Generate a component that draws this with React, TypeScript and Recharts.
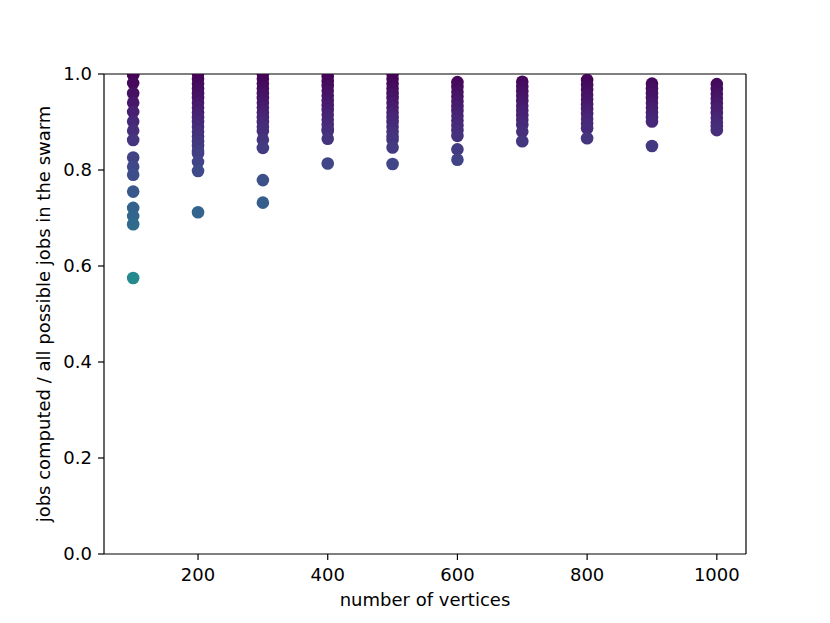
import React from 'react';
import { ScatterChart, Scatter, XAxis, YAxis, ReferenceLine } from 'recharts';

const col100 = [1.0, 0.998, 0.981, 0.96, 0.94, 0.921, 0.901, 0.882, 0.8625, 0.826, 0.807, 0.79, 0.755, 0.721, 0.704, 0.687, 0.575];
const col200 = [1.0, 0.99, 0.98, 0.97, 0.96, 0.95, 0.94, 0.93, 0.92, 0.91, 0.9, 0.89, 0.88, 0.87, 0.86, 0.85, 0.84, 0.835, 0.817, 0.798, 0.712];
const col300 = [1.0, 0.99, 0.98, 0.97, 0.96, 0.95, 0.94, 0.93, 0.92, 0.91, 0.9, 0.89, 0.881, 0.863, 0.846, 0.779, 0.732];
const col400 = [0.995, 0.985, 0.975, 0.965, 0.955, 0.945, 0.935, 0.925, 0.915, 0.905, 0.895, 0.885, 0.881, 0.865, 0.8135];
const col500 = [1.0, 0.99, 0.98, 0.97, 0.96, 0.95, 0.94, 0.93, 0.92, 0.91, 0.9, 0.89, 0.88, 0.87, 0.863, 0.847, 0.8125];
const col600 = [0.983, 0.973, 0.963, 0.953, 0.943, 0.933, 0.923, 0.913, 0.903, 0.893, 0.883, 0.871, 0.843, 0.8215];
const col700 = [0.984, 0.974, 0.964, 0.954, 0.944, 0.934, 0.924, 0.914, 0.904, 0.894, 0.88, 0.86];
const col800 = [0.9875, 0.977, 0.967, 0.957, 0.947, 0.937, 0.927, 0.917, 0.907, 0.897, 0.887, 0.866];
const col900 = [0.98, 0.97, 0.96, 0.95, 0.94, 0.93, 0.92, 0.91, 0.901, 0.85];
const col1000 = [0.979, 0.969, 0.959, 0.949, 0.939, 0.929, 0.919, 0.909, 0.899, 0.891, 0.883];

const vertices = [100, 200, 300, 400, 500, 600, 700, 800, 900, 1000];
const columns = [col100, col200, col300, col400, col500, col600, col700, col800, col900, col1000];

const xTicks = [200, 400, 600, 800, 1000];
const yTicks = [0, 0.2, 0.4, 0.6, 0.8, 1.0];
const xDomain = [55, 1045];
const yDomain = [0, 1];

const data = vertices.flatMap((v, i) => columns[i].map((y) => ({ x: v, y })));

const VIRIDIS = ['#440154', '#482475', '#414487', '#355f8d', '#2a788e', '#21918c', '#22a884', '#44bf70', '#7ad151', '#bddf26', '#fde725'];

function hexToRgb(h: string) {
  return [parseInt(h.slice(1, 3), 16), parseInt(h.slice(3, 5), 16), parseInt(h.slice(5, 7), 16)];
}

function viridis(t: number) {
  const c = Math.max(0, Math.min(1, t)) * (VIRIDIS.length - 1);
  const i = Math.min(Math.floor(c), VIRIDIS.length - 2);
  const f = c - i;
  const a = hexToRgb(VIRIDIS[i]);
  const b = hexToRgb(VIRIDIS[i + 1]);
  const r = a.map((v, k) => Math.round(v + (b[k] - v) * f));
  return `rgb(${r[0]},${r[1]},${r[2]})`;
}

const Dot = (props: any) => {
  const { cx, cy, payload } = props;
  if (cx == null || cy == null) return null;
  return <circle cx={cx} cy={cy} r={6.3} fill={viridis((1 - payload.y) / 0.9)} />;
};

const font = { fontFamily: 'DejaVu Sans', fontSize: 18, fill: '#000' };

export default function App() {
  return (
    <div style={{ position: 'absolute', left: 0, top: 0, background: '#fff' }}>
      <ScatterChart width={830} height={623} margin={{ top: 74, right: 84, bottom: 0, left: 0 }}>
        <XAxis
          type="number"
          dataKey="x"
          domain={xDomain}
          ticks={xTicks}
          allowDataOverflow
          height={69}
          tickSize={6}
          tickMargin={8}
          tick={font}
          stroke="#000"
          axisLine={{ stroke: '#000', strokeWidth: 1.2 }}
          tickLine={{ stroke: '#000', strokeWidth: 1.2 }}
          label={{ value: 'number of vertices', position: 'center', dy: 11, style: font }}
        />
        <YAxis
          type="number"
          dataKey="y"
          domain={yDomain}
          ticks={yTicks}
          allowDataOverflow
          width={104}
          tickSize={6}
          tickMargin={6}
          tick={font}
          tickFormatter={(v: number) => v.toFixed(1)}
          stroke="#000"
          axisLine={{ stroke: '#000', strokeWidth: 1.2 }}
          tickLine={{ stroke: '#000', strokeWidth: 1.2 }}
          label={{ value: 'jobs computed / all possible jobs in the swarm', angle: -90, position: 'center', dx: -8, style: { ...font, textAnchor: 'middle' } }}
        />
        <Scatter data={data} shape={Dot} isAnimationActive={false} />
        <ReferenceLine y={yDomain[1]} stroke="#000" strokeWidth={1.2} ifOverflow="visible" />
        <ReferenceLine x={xDomain[1]} stroke="#000" strokeWidth={1.2} ifOverflow="visible" />
      </ScatterChart>
    </div>
  );
}
